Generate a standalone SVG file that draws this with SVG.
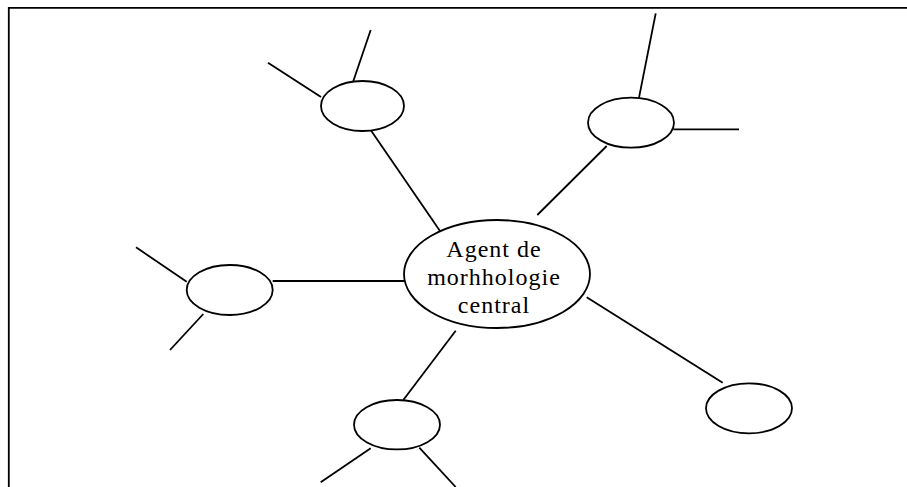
<svg xmlns="http://www.w3.org/2000/svg" width="907" height="487" viewBox="0 0 907 487">
<style>
.n{fill:#fff;stroke:#000;stroke-width:1.8}
.c line,.b{stroke:#000;stroke-width:1.8;fill:none}
.t{font-family:"Liberation Serif","Times New Roman",serif;font-size:24px;letter-spacing:1px;fill:#000;text-anchor:middle}
</style>
<rect width="907" height="487" fill="#fff"/>
<path class="b" d="M8.8,487 V7.8 H907"/>
<g class="c" id="connectors">
<line x1="353" y1="82" x2="370.7" y2="30"/>
<line x1="268" y1="62.7" x2="321" y2="97"/>
<line x1="370.7" y1="130" x2="440" y2="231"/>
<line x1="639" y1="97.7" x2="655.7" y2="13.3"/>
<line x1="673.3" y1="129.3" x2="739" y2="129.3"/>
<line x1="606.7" y1="146" x2="537.3" y2="215"/>
<line x1="136" y1="247.3" x2="186.7" y2="281.7"/>
<line x1="203.3" y1="314" x2="170" y2="350"/>
<line x1="272.7" y1="281" x2="405" y2="281"/>
<line x1="403.3" y1="400" x2="455.7" y2="330.7"/>
<line x1="370.7" y1="448.3" x2="320.7" y2="482.3"/>
<line x1="419.3" y1="447.7" x2="455.7" y2="487"/>
<line x1="586.7" y1="297.3" x2="722.7" y2="382.7"/>
</g>
<g id="central">
<ellipse class="n" cx="497" cy="274" rx="93" ry="54"/>
<text class="t" x="494" y="256.5">Agent de</text>
<text class="t" x="494" y="285">morhhologie</text>
<text class="t" x="494" y="313">central</text>
</g>
<g id="node-top-left"><ellipse class="n" cx="362.5" cy="106" rx="41.5" ry="25"/></g>
<g id="node-top-right"><ellipse class="n" cx="631" cy="122.7" rx="43" ry="25"/></g>
<g id="node-left"><ellipse class="n" cx="229.7" cy="290" rx="43" ry="25"/></g>
<g id="node-bottom"><ellipse class="n" cx="397" cy="424.7" rx="43" ry="24.7"/></g>
<g id="node-bottom-right"><ellipse class="n" cx="749" cy="408.3" rx="43" ry="25"/></g>
</svg>
